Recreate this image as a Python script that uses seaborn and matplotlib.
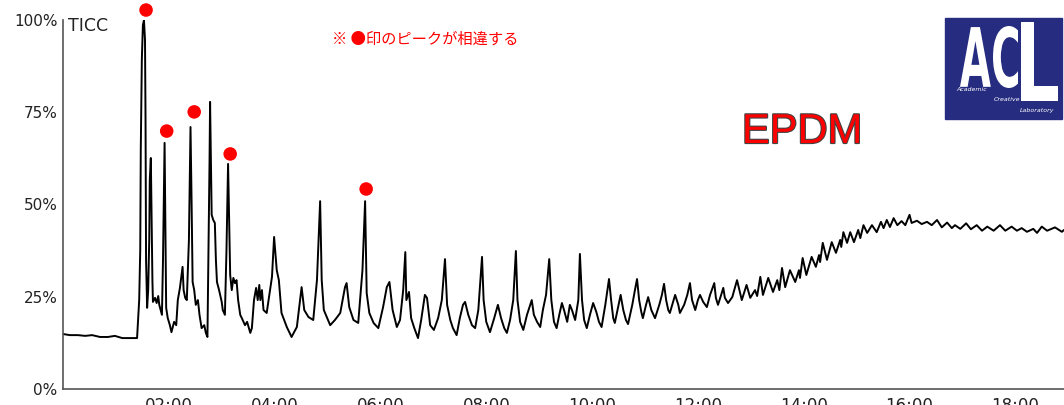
import matplotlib
matplotlib.use("Agg")
import matplotlib.pyplot as plt
import matplotlib.patheffects as pe
from matplotlib.patches import Rectangle, PathPatch
from matplotlib.textpath import TextPath
from matplotlib.font_manager import FontProperties
from matplotlib.transforms import Affine2D
import pandas as pd
import seaborn as sns

# TICC trace: (time in minutes, intensity in %)
ticc_points = [
    (0.00, 14.9), (0.13, 14.6), (0.28, 14.6), (0.42, 14.4), (0.55, 14.6), (0.70, 14.1), (0.85, 14.1),
    (0.98, 14.4), (1.12, 13.8), (1.27, 13.8), (1.40, 13.8),
    (1.44, 24.1), (1.46, 37.7), (1.47, 64.8), (1.49, 89.2), (1.51, 98.6), (1.53, 100.0), (1.55, 94.6),
    (1.56, 72.9), (1.57, 35.0), (1.59, 22.0),
    (1.61, 26.8), (1.63, 40.4), (1.64, 56.6), (1.66, 62.6), (1.67, 51.2), (1.69, 29.5), (1.70, 23.6),
    (1.74, 24.7), (1.77, 23.3), (1.80, 25.2), (1.82, 22.8), (1.87, 20.1),
    (1.89, 35.0), (1.92, 66.7), (1.93, 51.2), (1.95, 22.0), (1.98, 19.2), (2.02, 17.3), (2.05, 15.4),
    (2.10, 18.2), (2.14, 17.3), (2.17, 24.1), (2.21, 27.4), (2.26, 33.1), (2.28, 26.8), (2.31, 24.7),
    (2.34, 24.1), (2.38, 40.4), (2.41, 71.0), (2.43, 51.2), (2.45, 29.0), (2.48, 26.8), (2.51, 22.8),
    (2.55, 24.1), (2.58, 20.1), (2.62, 16.5), (2.67, 17.3), (2.70, 15.2), (2.73, 14.1),
    (2.75, 37.7), (2.77, 62.1), (2.78, 77.8), (2.79, 67.5), (2.81, 47.2), (2.84, 45.8), (2.87, 45.0),
    (2.89, 35.0), (2.91, 29.0), (2.95, 26.8), (3.00, 23.6), (3.02, 21.4), (3.06, 20.1), (3.09, 37.7),
    (3.12, 61.0), (3.14, 45.8), (3.16, 30.9), (3.19, 26.8), (3.22, 30.1), (3.25, 28.7), (3.28, 29.5),
    (3.31, 24.1), (3.35, 20.1), (3.38, 19.2), (3.44, 17.3), (3.48, 18.2), (3.54, 15.2), (3.57, 16.5),
    (3.61, 24.1), (3.65, 27.4), (3.68, 24.1), (3.71, 28.2), (3.73, 24.1), (3.76, 26.8), (3.79, 21.4),
    (3.85, 20.6), (3.95, 30.4), (3.99, 41.2), (4.04, 32.2), (4.08, 29.5), (4.13, 20.6), (4.23, 16.8),
    (4.32, 14.1), (4.42, 16.8), (4.51, 27.6), (4.56, 21.4), (4.64, 19.5), (4.73, 18.7), (4.80, 29.5),
    (4.86, 50.9), (4.89, 29.5), (4.93, 21.4), (5.05, 17.3), (5.14, 18.7), (5.24, 20.6), (5.33, 27.6),
    (5.36, 28.7), (5.41, 22.2), (5.49, 18.7), (5.58, 17.9), (5.66, 32.2), (5.71, 50.9), (5.74, 26.0),
    (5.79, 20.6), (5.87, 17.9), (5.96, 16.5), (6.05, 22.2), (6.12, 27.6), (6.17, 29.0), (6.23, 21.4),
    (6.31, 16.8),
    (6.37, 18.7), (6.43, 26.8), (6.47, 37.1), (6.49, 24.1), (6.54, 26.3), (6.58, 19.2), (6.64, 16.5),
    (6.71, 13.8), (6.77, 18.7), (6.84, 25.5), (6.88, 24.7), (6.94, 17.3), (7.01, 16.0), (7.09, 19.2),
    (7.16, 24.1), (7.22, 35.2), (7.26, 22.8), (7.32, 18.7), (7.37, 16.5), (7.44, 14.6), (7.50, 19.2),
    (7.56, 22.8), (7.60, 23.6), (7.66, 20.1), (7.73, 17.3), (7.79, 16.5), (7.85, 21.4), (7.92, 35.8),
    (7.95, 24.1), (8.00, 18.2), (8.07, 15.4), (8.15, 19.2), (8.22, 22.8), (8.28, 19.2), (8.34, 16.5),
    (8.39, 15.2), (8.45, 18.7), (8.51, 24.1), (8.56, 37.4), (8.59, 24.1), (8.64, 18.2), (8.70, 16.0),
    (8.77, 20.1), (8.86, 24.1), (8.90, 20.1), (8.96, 18.2), (9.02, 16.8), (9.07, 21.4), (9.13, 25.5),
    (9.19, 35.2), (9.23, 24.1), (9.28, 18.2), (9.33, 16.5), (9.38, 20.1), (9.43, 23.3), (9.47, 21.4),
    (9.53, 18.2), (9.58, 22.8), (9.62, 21.4), (9.68, 18.7), (9.74, 24.1), (9.77, 36.6), (9.81, 24.1),
    (9.85, 18.7), (9.90, 16.5), (9.96, 20.1),
    (10.02, 23.3), (10.08, 20.9), (10.13, 18.2), (10.18, 16.8), (10.25, 22.8), (10.32, 29.8), (10.36, 24.1),
    (10.40, 19.2), (10.43, 17.9), (10.49, 22.0), (10.54, 25.5), (10.59, 21.4), (10.64, 18.7), (10.68, 17.6),
    (10.76, 22.8), (10.81, 26.8), (10.85, 29.8), (10.89, 24.1), (10.93, 20.9), (10.96, 19.2), (11.02, 22.8),
    (11.06, 24.9), (11.12, 21.4), (11.19, 19.2), (11.27, 22.8), (11.32, 25.5), (11.36, 28.5), (11.40, 24.1),
    (11.44, 21.4), (11.47, 20.6), (11.53, 23.6), (11.57, 25.5), (11.63, 22.8), (11.66, 20.6), (11.74, 22.8),
    (11.80, 25.5), (11.85, 28.7), (11.89, 24.1), (11.95, 21.4),
    (12.00, 24.1), (12.04, 25.5), (12.10, 23.6), (12.17, 22.2), (12.23, 25.5), (12.31, 28.7), (12.34, 24.7),
    (12.38, 22.8), (12.44, 25.5), (12.48, 27.4), (12.51, 24.7), (12.57, 23.3), (12.65, 24.9), (12.74, 29.5),
    (12.83, 24.1), (12.92, 28.2), (12.99, 24.7), (13.08, 26.8), (13.12, 25.2), (13.18, 30.4), (13.23, 25.5),
    (13.33, 30.1), (13.42, 26.3), (13.50, 29.5), (13.54, 26.8), (13.59, 32.8), (13.65, 27.6), (13.74, 32.2),
    (13.84, 29.0), (13.91, 32.2), (13.93, 30.1), (13.98, 35.5),
    (14.05, 30.9), (14.15, 35.8), (14.23, 33.1), (14.29, 36.3), (14.31, 34.4), (14.36, 39.6), (14.44, 35.0),
    (14.53, 39.8), (14.61, 36.9), (14.69, 40.4), (14.71, 38.5), (14.75, 42.5), (14.82, 39.6), (14.88, 42.5),
    (14.95, 39.8), (15.03, 43.1), (15.07, 40.9), (15.13, 44.4), (15.20, 42.3), (15.29, 44.4), (15.38, 42.5),
    (15.46, 45.3), (15.51, 43.6), (15.57, 45.8), (15.63, 43.9), (15.70, 46.3), (15.77, 44.4), (15.85, 45.5),
    (15.92, 44.4),
    (16.00, 47.2), (16.04, 45.0), (16.14, 45.6), (16.23, 44.7), (16.33, 45.3), (16.42, 44.4), (16.52, 45.8),
    (16.61, 43.8), (16.71, 45.1), (16.80, 43.6), (16.86, 44.4), (16.96, 43.4), (17.07, 44.9), (17.16, 43.3),
    (17.27, 44.4), (17.37, 42.9), (17.47, 44.0), (17.59, 42.9), (17.71, 44.4), (17.81, 42.9), (17.93, 44.0),
    (18.03, 42.9), (18.12, 43.6), (18.22, 42.6), (18.34, 43.4), (18.41, 42.3), (18.50, 44.0), (18.60, 42.9),
    (18.75, 43.8), (18.88, 42.6), (18.92, 43.1),
]

# peaks that differ (red dots)
marked_time = [1.57, 1.96, 2.48, 3.16, 5.73]
marked_pct = [102.7, 69.9, 75.1, 63.7, 54.2]

x_ticks = [2, 4, 6, 8, 10, 12, 14, 16, 18]
x_labels = ["02:00", "04:00", "06:00", "08:00", "10:00", "12:00", "14:00", "16:00", "18:00"]
y_ticks = [0, 25, 50, 75, 100]
y_labels = ["0%", "25%", "50%", "75%", "100%"]

sns.set_style("white")
plt.rcParams["font.family"] = ["DejaVu Sans"]

W, H = 1064, 405
fig = plt.figure(figsize=(W / 100, H / 100), dpi=100)
ax = fig.add_axes([63 / W, 16 / H, 1001 / W, 369 / H])

df = pd.DataFrame(ticc_points, columns=["time", "ticc"])
sns.lineplot(data=df, x="time", y="ticc", sort=False, estimator=None,
             color="black", lw=1.4, ax=ax)
sns.scatterplot(x=marked_time, y=marked_pct, color="#ff0000", s=95,
                edgecolor="none", clip_on=False, zorder=5, ax=ax)

ax.set_xlim(0, 18.92)
ax.set_ylim(0, 100)
ax.set_xticks(x_ticks, x_labels)
ax.set_yticks(y_ticks, y_labels)
ax.set_xlabel("")
ax.set_ylabel("")
ax.tick_params(axis="both", length=0, labelcolor="#222222")
ax.tick_params(axis="y", labelsize=11, pad=4)
ax.tick_params(axis="x", labelsize=12, pad=6)
for side in ["top", "right"]:
    ax.spines[side].set_visible(False)
for side in ["left", "bottom"]:
    ax.spines[side].set_color("#555555")
    ax.spines[side].set_linewidth(1.2)

fig.text(68 / W, 1 - 26 / H, "TICC", fontsize=12.5, color="#222222", va="center", ha="left")
fig.text(425 / W, 1 - 39 / H, "※ ●印のピークが相違する", fontsize=11, color="#ff0000",
         ha="center", va="center", family=["Noto Sans CJK JP", "DejaVu Sans"])
fig.text(802 / W, 1 - 143 / H, "EPDM", fontsize=30, color="#ff0000", ha="center", va="baseline",
         family=["Liberation Sans", "DejaVu Sans"],
         path_effects=[pe.Stroke(linewidth=1.6, foreground="#444444"), pe.Normal()])

# ACL logo in the top-right corner (pixel coords, y measured from the top)
px = Affine2D().scale(1 / W, 1 / H) + fig.transFigure
fig.add_artist(Rectangle((945, H - 119), 117, 101, transform=px, color="#262c80", zorder=10))


def place_text(txt, x0, y0, x1, y1):
    path = TextPath((0, 0), txt, size=1, prop=FontProperties(family="DejaVu Sans", weight="bold"))
    ext = path.get_extents()
    tr = (Affine2D().translate(-ext.x0, -ext.y0)
          .scale((x1 - x0) / ext.width, (y1 - y0) / ext.height)
          .translate(x0, H - y1))
    fig.add_artist(PathPatch(path, transform=tr + px, color="white", lw=0, zorder=11))


place_text("AC", 960, 26, 1018, 88)
place_text("L", 1021, 22, 1058, 101)
fig.text(956 / W, 1 - 91 / H, "Academic", fontsize=4.5, style="italic", color="white", zorder=12)
fig.text(994 / W, 1 - 101 / H, "Creative", fontsize=4.5, style="italic", color="white", zorder=12)
fig.text(1020 / W, 1 - 112 / H, "Laboratory", fontsize=4.5, style="italic", color="white", zorder=12)

fig.savefig("out.png", dpi=100)
